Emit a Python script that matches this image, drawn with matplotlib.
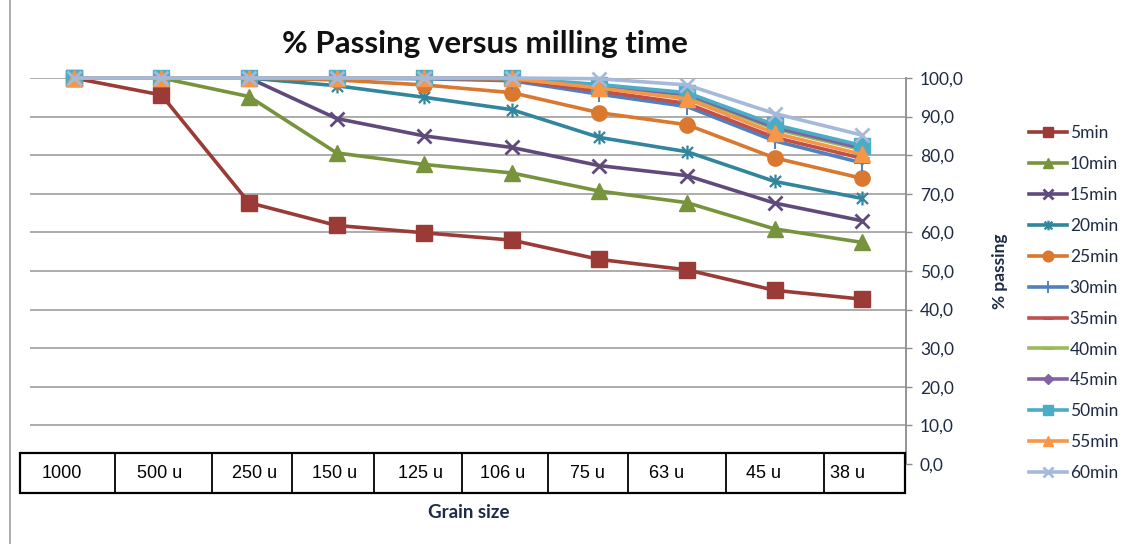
import matplotlib
matplotlib.use("Agg")
import matplotlib.pyplot as plt
from matplotlib.patches import Rectangle
from matplotlib.lines import Line2D
from matplotlib.path import Path
from matplotlib.ticker import FuncFormatter, MultipleLocator

# ---- data -------------------------------------------------------------
grain_sizes = ["1000", "500 u", "250 u", "150 u", "125 u", "106 u",
               "75 u", "63 u", "45 u", "38 u"]
series_names = ["5min", "10min", "15min", "20min", "25min", "30min",
                "35min", "40min", "45min", "50min", "55min", "60min"]

p_5min = [100, 95.6, 67.7, 61.8, 59.9, 58.0, 53.0, 50.3, 45.0, 42.7]
p_10min = [100, 100, 95.2, 80.6, 77.6, 75.4, 70.7, 67.7, 60.9, 57.4]
p_15min = [100, 100, 100, 89.5, 85.0, 82.0, 77.3, 74.7, 67.6, 63.0]
p_20min = [100, 100, 100, 98.0, 95.0, 91.8, 84.6, 80.9, 73.2, 68.8]
p_25min = [100, 100, 100, 99.5, 98.2, 96.2, 91.0, 87.9, 79.3, 74.0]
p_30min = [100, 100, 100, 100, 99.8, 99.3, 95.8, 92.6, 83.7, 78.0]
p_35min = [100, 100, 100, 100, 100, 99.6, 96.6, 93.4, 84.6, 79.2]
p_40min = [100, 100, 100, 100, 100, 99.8, 97.6, 95.4, 86.8, 81.4]
p_45min = [100, 100, 100, 100, 100, 99.9, 97.8, 95.8, 87.2, 81.8]
p_50min = [100, 100, 100, 100, 100, 100, 98.3, 96.2, 87.9, 82.5]
p_55min = [100, 100, 100, 100, 100, 99.9, 97.4, 94.6, 85.7, 80.2]
p_60min = [100, 100, 100, 100, 100, 100, 99.8, 98.2, 90.8, 85.2]

values = [p_5min, p_10min, p_15min, p_20min, p_25min, p_30min,
          p_35min, p_40min, p_45min, p_50min, p_55min, p_60min]

# ---- styling ----------------------------------------------------------
colors = ["#9B3B37", "#77933C", "#604A7B", "#31859C", "#D9782E", "#4F81BD",
          "#C0504D", "#9BBB59", "#8064A2", "#4BACC6", "#F79646", "#A5B9DA"]

# Excel-like star: an X with a vertical stroke
star = Path([(-1, -1), (1, 1), (-1, 1), (1, -1), (0, -1.25), (0, 1.25)],
            [Path.MOVETO, Path.LINETO, Path.MOVETO, Path.LINETO,
             Path.MOVETO, Path.LINETO])

markers = ["s", "^", "x", star, "o", "+", "_", "_", "D", "s", "^", "x"]
msizes = [11, 11, 10, 10, 11, 12, 10, 10, 8, 11, 11, 10]
mews = [1, 1, 2.0, 1.6, 1, 1.4, 2.2, 2.2, 1, 1, 1, 2.0]

W, H = 1130, 544
plt.rcParams["font.family"] = ["Lato", "DejaVu Sans"]
fig = plt.figure(figsize=(W / 100, H / 100), dpi=100)
fig.patch.set_facecolor("white")

label_color = "#1F2A44"
grid_color = "#A6A6A6"

ax = fig.add_axes([30 / W, 1 - 464 / H, 876 / W, 386 / H])
x = list(range(len(grain_sizes)))
handles = []
for name, vals, c, m, ms, mew in zip(series_names, values, colors, markers, msizes, mews):
    ln, = ax.plot(x, vals, color=c, lw=2.6, marker=m, markersize=ms,
                  markerfacecolor=c, markeredgecolor=c, markeredgewidth=mew,
                  label=name, clip_on=False, zorder=3)
    handles.append(ln)

ax.set_xlim(-0.5, len(grain_sizes) - 0.5)
ax.set_ylim(0, 100)
ax.yaxis.set_major_locator(MultipleLocator(10))
ax.yaxis.set_major_formatter(FuncFormatter(lambda v, p: f"{v:.1f}".replace(".", ",")))
ax.yaxis.tick_right()
ax.grid(axis="y", color=grid_color, lw=1.3, zorder=0)
ax.set_axisbelow(True)
for s in ("top", "left", "bottom"):
    ax.spines[s].set_visible(False)
ax.spines["right"].set_color("#8C8C8C")
ax.spines["right"].set_linewidth(1.3)
ax.tick_params(axis="y", direction="out", length=4, width=1, color="#8C8C8C",
               labelsize=12.5, labelcolor=label_color, pad=6)
for t in ax.get_yticklabels():
    t.set_horizontalalignment("left")
ax.tick_params(axis="x", bottom=False, labelbottom=False)

ax.set_ylabel("% passing", fontsize=12.5, fontweight="bold", color=label_color,
              rotation=90)
ax.yaxis.set_label_position("right")
ax.yaxis.set_label_coords(1.098, 0.5)

# ---- category table below the plot -----------------------------------
cell_edges = [19, 115, 212, 292, 374, 462, 548, 628, 726, 824, 906]
text_x = [62, 160, 255, 335, 420, 503, 587, 667, 764, 848]
tax = fig.add_axes([19 / W, 1 - 494 / H, 887 / W, 42 / H])
tax.set_xlim(19, 906)
tax.set_ylim(0, 42)
tax.set_axis_off()
tax.add_patch(Rectangle((19.8, 0.8), 885.4, 40.4, facecolor="white",
                        edgecolor="black", lw=1.6, clip_on=False))
for e in cell_edges[1:-1]:
    tax.plot([e, e], [0.8, 41.2], color="black", lw=1.3, clip_on=False)
for tx, lab in zip(text_x, grain_sizes):
    tax.text(tx, 20.5, lab, ha="center", va="center", fontsize=13,
             family=["Liberation Sans", "DejaVu Sans"], color="black")

# ---- titles, border and legend ---------------------------------------
fig.text(485 / W, 1 - 44 / H, "% Passing versus milling time", ha="center",
         va="center", fontsize=22.5, fontweight="bold", color="#111111")
fig.text(469 / W, 1 - 513 / H, "Grain size", ha="center", va="center",
         fontsize=13.5, fontweight="bold", color=label_color)
fig.add_artist(Line2D([9.5 / W, 9.5 / W], [0, 1], color="#A6A6A6", lw=1.3))

fig.legend(handles=handles, loc="upper left",
           bbox_to_anchor=(1029 / W, 1 - 125 / H), frameon=False,
           fontsize=12.5, labelcolor=label_color, handlelength=2.2,
           handletextpad=0.15, labelspacing=0.86, markerscale=0.7,
           borderaxespad=0, borderpad=0)

fig.savefig("out.png", dpi=100, facecolor="white")
